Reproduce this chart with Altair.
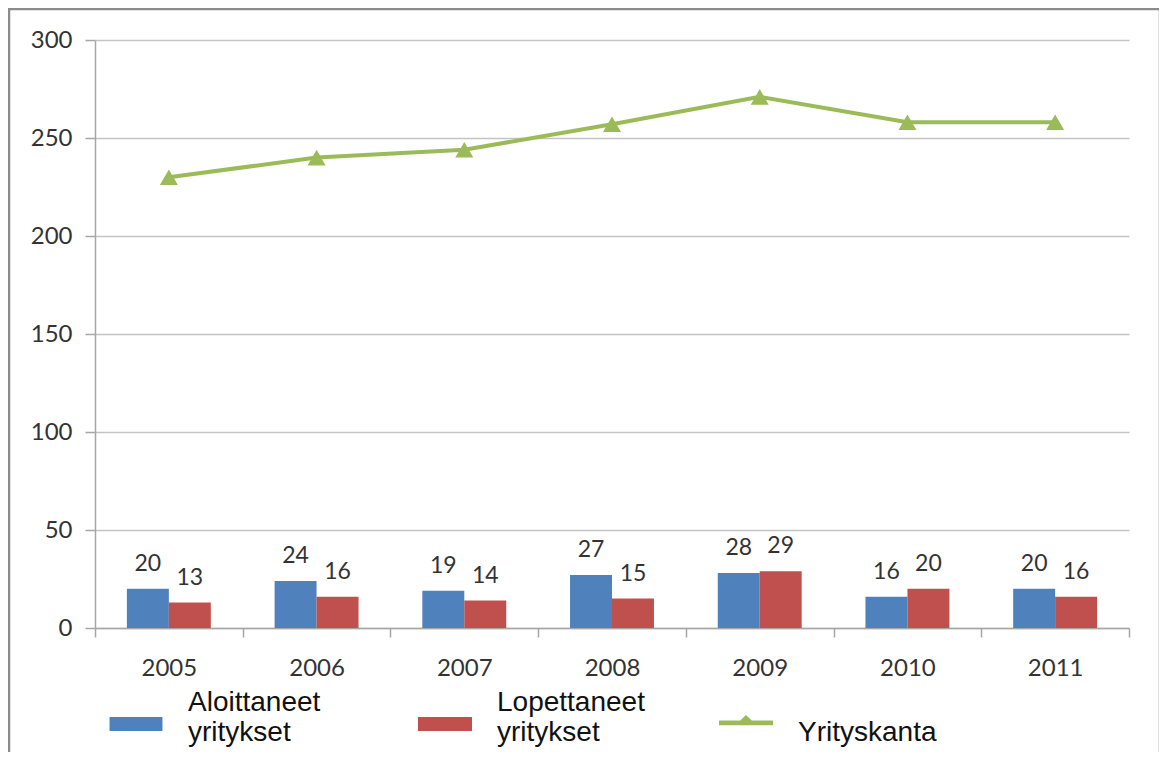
import altair as alt
import pandas as pd

years = ["2005", "2006", "2007", "2008", "2009", "2010", "2011"]
aloittaneet = [20, 24, 19, 27, 28, 16, 20]
lopettaneet = [13, 16, 14, 15, 29, 20, 16]
yrityskanta = [230, 240, 244, 257, 271, 258, 258]
series_names = ["Aloittaneet yritykset", "Lopettaneet yritykset", "Yrityskanta"]
series_colors = ["#4F81BD", "#C0504D", "#9BBB59"]
y_ticks = [0, 50, 100, 150, 200, 250, 300]

bars_df = pd.DataFrame(
    [{"year": y, "series": series_names[0], "value": v} for y, v in zip(years, aloittaneet)]
    + [{"year": y, "series": series_names[1], "value": v} for y, v in zip(years, lopettaneet)]
)
line_df = pd.DataFrame({"year": years, "value": yrityskanta})
legend_df = pd.DataFrame({"series": series_names})

x_enc = alt.X(
    "year:N",
    sort=years,
    scale=alt.Scale(paddingInner=0, paddingOuter=0),
    axis=alt.Axis(
        title=None, tickBand="extent", tickSize=9, labelPadding=38,
        labelBaseline="alphabetic", grid=False, labelAngle=0,
    ),
)
y_enc = alt.Y(
    "value:Q",
    scale=alt.Scale(domain=[0, 300], nice=False),
    axis=alt.Axis(title=None, values=y_ticks, tickSize=10, labelPadding=13, grid=True),
)
xoff = alt.XOffset("series:N", sort=series_names[:2],
                   scale=alt.Scale(paddingInner=0, paddingOuter=0.76))

bars = alt.Chart(bars_df).mark_bar().encode(
    x=x_enc, y=y_enc, xOffset=xoff,
    fill=alt.Fill("series:N", scale=alt.Scale(domain=series_names[:2], range=series_colors[:2]), legend=None),
)
labels = alt.Chart(bars_df).mark_text(
    font="Lato", fontSize=23, baseline="alphabetic", dy=-18, color="#333333"
).encode(x=x_enc, y=y_enc, xOffset=xoff, text="value:Q")

line = alt.Chart(line_df).mark_line(strokeWidth=4, color=series_colors[2]).encode(x=x_enc, y=y_enc)
points = alt.Chart(line_df).mark_point(
    shape="triangle-up", filled=True, size=324, opacity=1, color=series_colors[2]
).encode(x=x_enc, y=y_enc)

label_expr = "datum.label == 'Yrityskanta' ? ['', 'Yrityskanta'] : split(datum.label, ' ')"
# legend symbol shapes (the zero-area "M7.7,0.5Z" only widens the first entry's layout box)
sym_blue = "M-0.98,0.22H0.98V0.74H-0.98Z M7.7,0.5Z"
sym_red = "M-1,0.22H1V0.74H-1Z"
sym_green = "M-1,0.35H1V0.53H-1Z M0,0.15L0.31,0.44H-0.31Z"
legend_layer = alt.Chart(legend_df).mark_point(filled=True, size=0, opacity=1).encode(
    color=alt.Color("series:N", scale=alt.Scale(domain=series_names, range=series_colors),
                    title=None, legend=alt.Legend(labelExpr=label_expr)),
    shape=alt.Shape("series:N", scale=alt.Scale(domain=series_names, range=[sym_blue, sym_red, sym_green]),
                    title=None, legend=alt.Legend(labelExpr=label_expr)),
)

frame = alt.Chart(alt.Data(values=[{}])).mark_rect(
    fill="transparent", stroke="#8c8c8c", strokeWidth=2.5
).encode(x=alt.value(-86), x2=alt.value(1065), y=alt.value(-31), y2=alt.value(760))

chart = alt.layer(bars, labels, line, points, legend_layer, frame).properties(
    width=1034, height=588,
    autosize=alt.AutoSizeParams(type="none"),
    padding={"left": 87, "top": 32, "right": 30, "bottom": 124},
).configure_view(stroke=None).configure_axis(
    labelFont="Lato", labelFontSize=24, labelColor="#333333",
    domainColor="#a6a6a6", tickColor="#a6a6a6", gridColor="#c4c4c4",
    domainWidth=1.5, tickWidth=1.5, gridWidth=1.5,
).configure_legend(
    orient="none", legendX=14, legendY=644, direction="horizontal",
    labelFont="Liberation Sans", labelFontSize=28, labelColor="#111111",
    labelBaseline="alphabetic", labelOffset=25, labelLimit=400,
    symbolSize=2916, symbolStrokeWidth=0, columnPadding=74, padding=0,
)

chart.save("out.html", embed_options={"renderer": "svg", "actions": False})
